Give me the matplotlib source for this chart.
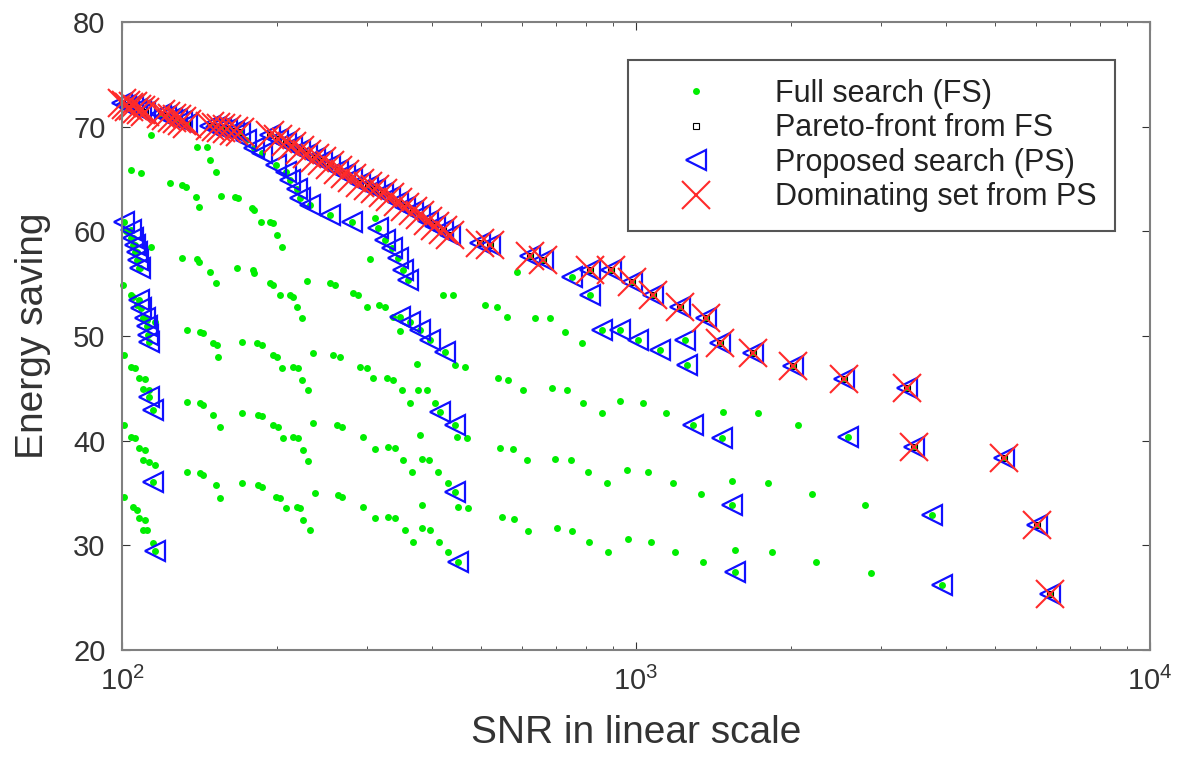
import numpy as np
import matplotlib
matplotlib.use("Agg")
from matplotlib import pyplot as plt
from matplotlib.ticker import NullFormatter, MultipleLocator

plt.rcParams['font.family'] = ['Liberation Sans', 'DejaVu Sans']
plt.rcParams['mathtext.fontset'] = 'custom'
plt.rcParams['mathtext.rm'] = 'Liberation Sans'

# (SNR, energy saving)

# pareto front / dominating set (same points)
front = [(100, 72.3), (102, 72.1), (103, 71.9), (105, 72.0), (107, 71.7), (109, 71.6), (111, 71.4),
         (119, 71.2), (122, 71.0), (125, 70.8), (128, 70.7), (131, 70.5), (134, 70.3),
         (148, 70.1), (152, 70.0), (156, 69.9), (160, 69.8), (165, 69.6), (170, 69.5),
         (194, 69.2), (201, 68.8), (208, 68.5), (214, 68.2), (222, 67.8), (229, 67.4), (237, 67.0),
         (245, 66.7), (254, 66.3), (263, 65.9), (272, 65.5), (280, 65.1), (290, 64.6), (301, 64.3),
         (310, 64.0), (322, 63.7), (332, 63.3), (344, 62.8), (355, 62.3), (368, 61.9), (380, 61.6),
         (394, 61.0), (406, 60.5), (421, 60.1), (435, 59.7),
         (497, 58.9), (520, 58.7), (622, 57.6), (659, 57.3), (814, 56.3), (892, 56.3), (982, 55.2),
         (1079, 53.9), (1219, 52.8), (1365, 51.7), (1457, 49.3), (1687, 48.4), (2020, 47.1),
         (2542, 45.9), (3361, 45.0), (3467, 39.4), (5206, 38.3), (6016, 31.9), (6377, 25.4)]

# proposed search points that are not on the front
ps_rest = [(101, 60.9), (104, 60.1), (105, 59.4), (106, 58.7), (107, 58.0), (107.5, 57.3), (108.5, 56.5),
           (108, 53.4), (109, 52.7), (111, 51.7), (112, 51.0), (112.5, 50.1), (113, 49.4),
           (113, 44.2), (115, 42.9), (115, 36.1), (116, 29.5),
           (174, 68.7), (181, 68.0), (187, 67.5), (199, 66.3), (208, 65.7), (212, 64.9), (219, 64.0),
           (222, 63.2), (232, 62.5), (254, 61.6), (280, 60.9), (315, 60.3), (325, 59.2), (335, 58.4),
           (344, 57.5), (352, 56.3), (360, 55.4),
           (347, 51.8), (363, 51.3), (380, 50.6), (398, 49.6), (425, 48.5),
           (416, 42.7), (445, 41.5), (445, 35.1), (451, 28.4),
           (750, 55.6), (815, 53.9),
           (859, 50.6), (931, 50.6), (1010, 49.6), (1113, 48.7), (1245, 49.6), (1254, 47.2),
           (1291, 41.5), (1469, 40.3), (1538, 33.9), (1558, 27.5),
           (2585, 40.35), (3766, 32.9), (3938, 26.2)]

# remaining full search points
fs_left = [(104, 65.9), (109, 65.6), (114, 69.2),
           (102, 60.0), (104, 59.4), (105, 58.7), (106, 58.0), (107, 57.3), (108, 56.5), (114, 58.5),
           (100.5, 54.9), (104, 53.9), (105, 53.7), (107, 53.0), (110, 51.7), (112, 51.5), (116, 51.3),
           (101, 48.2), (104, 47.0), (106, 46.9), (108, 46.0), (111, 45.9), (110, 44.9), (113, 44.8),
           (101, 41.5), (104, 40.4), (106, 40.3), (108, 39.3), (111, 39.1), (110, 38.2), (113, 38.0), (116, 37.7),
           (101, 34.6), (105, 33.7), (107, 33.4), (108, 32.6), (111, 32.4), (110, 31.5), (112, 31.5), (115, 30.2)]

fs_mid_top = [(140, 68.1), (146, 68.1), (148, 66.8), (152, 65.7),
              (124, 64.6), (131, 64.4), (133, 64.2), (139, 63.3), (141, 62.3), (156, 63.4), (166, 63.3),
              (168, 63.2), (179, 62.2), (181, 62.0), (186, 60.9), (194, 60.9), (197, 60.8), (200, 59.7),
              (205, 58.5), (310, 61.3),
              (131, 57.5), (140, 57.4), (141, 57.1), (148, 56.1), (152, 55.1), (167, 56.5), (180, 56.3),
              (181, 56.0), (194, 55.1), (197, 54.9), (203, 53.9), (212, 53.9), (215, 53.7), (219, 52.8),
              (224, 51.7),
              (229, 55.3), (254, 55.1), (260, 54.9), (281, 54.1), (288, 53.9), (299, 52.8), (316, 53.0),
              (325, 52.8), (337, 51.8), (347, 50.5), (304, 57.4), (421, 53.9), (441, 53.9)]

fs_mid_low = [(134, 50.6), (142, 50.4), (144, 50.3), (150, 49.3), (153, 49.1), (154, 48.0), (171, 49.4),
              (183, 49.3), (187, 49.1), (197, 48.2), (200, 48.0), (205, 46.9), (215, 47.0), (220, 46.9),
              (224, 45.8), (230, 44.8), (235, 48.4), (257, 48.2), (266, 48.0), (290, 47.0), (300, 46.9),
              (308, 46.0), (328, 46.0), (337, 45.8), (350, 44.8), (363, 43.6), (375, 47.3), (376, 44.8),
              (392, 44.8), (406, 43.6), (449, 40.35), (469, 40.3), (380, 40.5), (445, 47.2), (465, 47.0),
              (134, 43.7), (142, 43.6), (144, 43.4), (150, 42.45), (155, 41.3), (171, 42.6), (184, 42.45),
              (187, 42.4), (197, 41.5), (201, 41.3), (206, 40.3), (215, 40.35), (220, 40.3), (225, 39.1),
              (230, 38.1), (235, 41.7), (262, 41.5), (268, 41.3), (294, 40.35), (310, 39.2), (329, 39.4),
              (340, 39.3), (352, 38.15), (367, 37.0), (383, 38.25), (396, 38.15), (412, 37.0), (431, 36.0),
              (451, 33.7), (471, 33.6), (383, 33.9),
              (134, 37.0), (142, 36.9), (144, 36.7), (152, 35.8), (155, 34.5), (171, 36.0), (184, 35.8),
              (187, 35.6), (199, 34.6), (203, 34.5), (208, 33.6), (219, 33.7), (222, 33.6), (225, 32.4),
              (232, 31.5), (237, 35.0), (263, 34.8), (268, 34.6), (294, 33.7), (310, 32.6), (329, 32.7),
              (340, 32.6), (355, 31.5), (368, 30.3), (383, 31.7), (398, 31.5), (414, 30.3), (431, 29.4)]

fs_right = [(509, 52.96), (537, 52.8), (561, 51.8), (587, 56.1), (636, 51.7), (680, 51.7), (728, 50.4), (785, 49.3),
            (539, 46.0), (563, 45.8), (603, 44.8), (687, 45.0), (734, 44.8), (788, 43.6), (859, 42.6),
            (931, 43.8), (1032, 43.6), (1144, 42.6), (1477, 42.7), (1728, 42.6), (2067, 41.5),
            (544, 39.3), (577, 39.2), (614, 38.15), (696, 38.25), (747, 38.15), (807, 37.0), (878, 36.0),
            (960, 37.2), (1055, 37.0), (1180, 36.0), (1338, 34.9), (1538, 36.15), (1806, 36.0),
            (2200, 34.9), (2790, 33.9),
            (549, 32.7), (579, 32.5), (616, 31.4), (702, 31.7), (750, 31.4), (809, 30.3), (882, 29.4),
            (965, 30.6), (1070, 30.3), (1191, 29.4), (1350, 28.4), (1558, 29.6), (1839, 29.4),
            (2240, 28.4), (2866, 27.4)]

front = np.array(front)
ps = np.array(list(map(tuple, front)) + ps_rest)
fs = np.array(list(map(tuple, ps)) + fs_left + fs_mid_top + fs_mid_low + fs_right)

fig = plt.figure(figsize=(11.93, 7.57), dpi=100)
ax = fig.add_axes([0.1023, 0.1413, 0.8617, 0.8296])

# markers drawn unclipped, like the original (they spill over the left axis)
ax.plot(fs[:, 0], fs[:, 1], ls='none', marker='o', ms=5, mew=0, color='#00ee00',
        label='Full search (FS)', clip_on=False)
ax.plot(front[:, 0], front[:, 1], ls='none', marker='s', ms=4, mfc='none', mec='black', mew=0.8,
        label='Pareto-front from FS', clip_on=False)
ax.plot(ps[:, 0], ps[:, 1], ls='none', marker='<', ms=14, mfc='none', mec='#1010ff', mew=1.6,
        label='Proposed search (PS)', clip_on=False)
ax.plot(front[:, 0], front[:, 1], ls='none', marker='x', ms=20, mec='#ff2a2a', mew=1.5,
        label='Dominating set from PS', clip_on=False)

ax.set_xscale('log')
ax.set_xlim(100, 10000)
ax.set_ylim(20, 80)
ax.yaxis.set_major_locator(MultipleLocator(10))
ax.xaxis.set_minor_formatter(NullFormatter())

ax.tick_params(which='both', direction='in', top=True, right=True, colors='#333333',
               labelsize=21, pad=12)
ax.tick_params(which='major', length=6)
ax.tick_params(which='minor', length=3)
for s in ax.spines.values():
    s.set_color('#808080')
    s.set_linewidth(1.5)

ax.set_xlabel('SNR in linear scale', fontsize=28, color='#333333', labelpad=14)
ax.set_ylabel('Energy saving', fontsize=28, color='#333333', labelpad=16)

leg = ax.legend(loc='upper right', bbox_to_anchor=(0.966, 0.939), fontsize=22, numpoints=1,
                handlelength=3.2, handletextpad=1.0, labelspacing=0.15, borderpad=0.6,
                borderaxespad=0, fancybox=False, framealpha=1)
leg.get_frame().set_edgecolor('#555555')
leg.get_frame().set_linewidth(1.5)
for t in leg.get_texts():
    t.set_color('#222222')

fig.savefig('out.png', dpi=100)
